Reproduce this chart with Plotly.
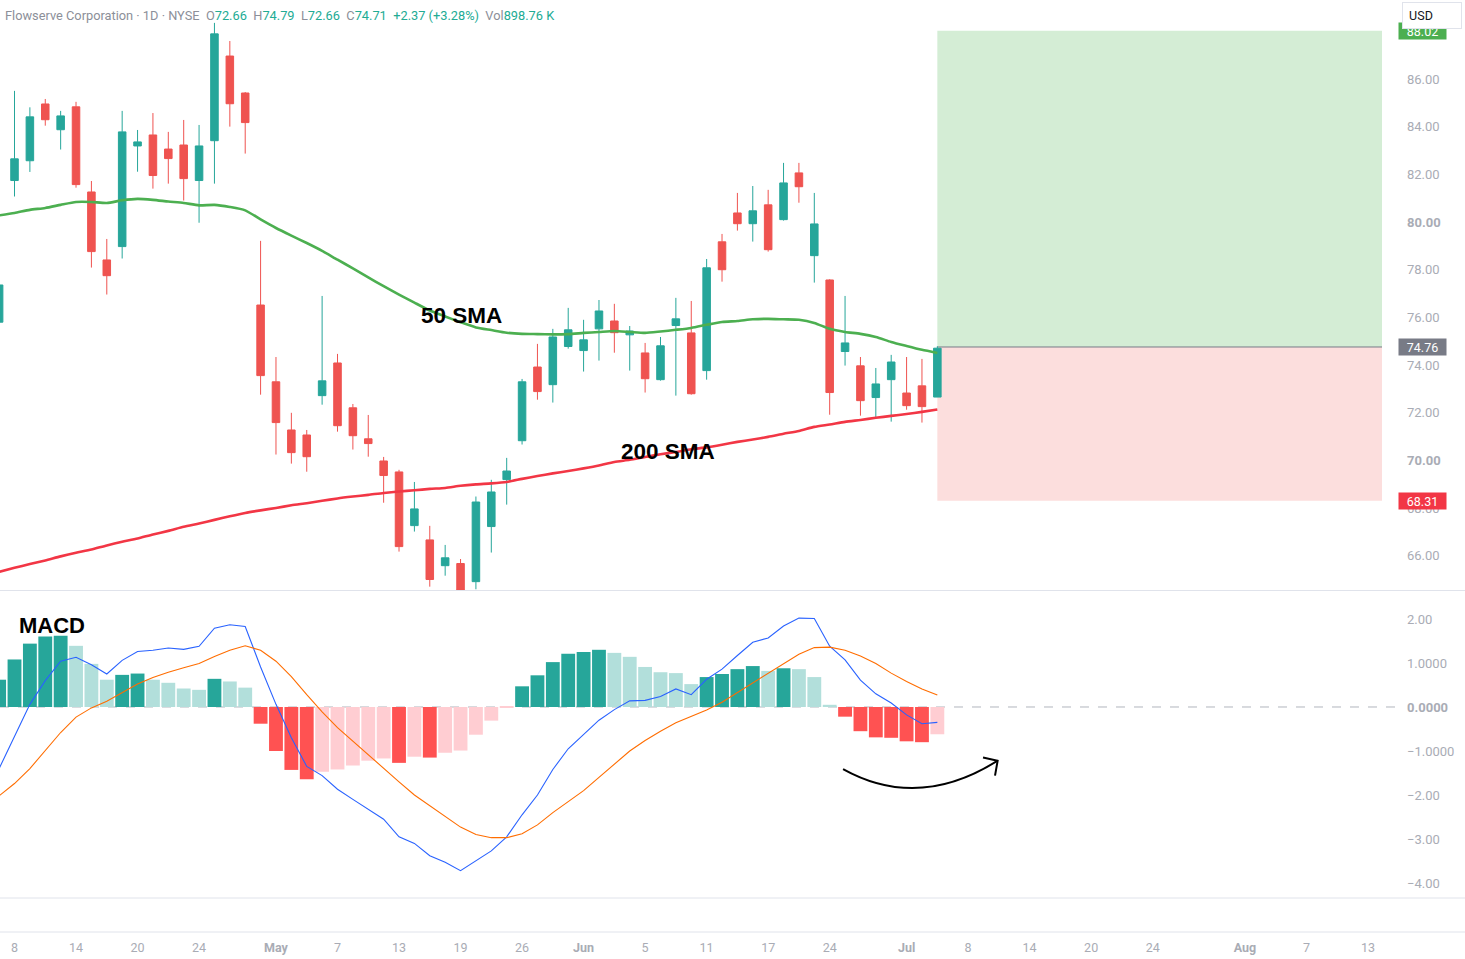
import plotly.graph_objects as go

# ---------------- data ----------------
bar_index = list(range(-1, 61))

opens = [75.80, 81.74, 82.57, 84.95, 83.87, 84.83, 81.26, 78.41, 78.97, 83.19,
         83.65, 83.06, 83.23, 81.74, 83.41, 86.96, 85.41, 76.52, 73.30, 71.28,
         71.07, 72.72, 74.09, 72.21, 70.91, 69.98, 69.52, 67.27, 66.67, 65.59,
         65.68, 64.92, 67.23, 69.20, 70.83, 73.92, 73.18, 74.78, 74.61, 75.52,
         75.85, 75.27, 74.51, 73.39, 75.66, 75.35, 73.77, 79.17, 80.38, 79.93,
         80.72, 80.10, 82.06, 78.59, 77.57, 74.57, 73.97, 72.64, 73.39, 72.83,
         73.13, 72.66]
highs = [77.50, 85.50, 84.81, 85.16, 84.66, 85.04, 81.72, 79.29, 84.66, 83.86,
         84.57, 83.78, 84.28, 84.07, 88.35, 87.59, 85.45, 79.21, 74.34, 72.00,
         71.28, 76.90, 74.47, 72.37, 71.91, 70.15, 69.61, 69.10, 67.26, 66.46,
         65.87, 68.49, 69.19, 70.11, 73.42, 74.89, 75.52, 76.40, 75.90, 76.73,
         76.57, 75.64, 74.93, 75.18, 76.82, 76.69, 78.45, 79.50, 81.22, 81.51,
         81.35, 82.48, 82.48, 81.22, 77.60, 76.90, 74.34, 73.88, 74.43, 74.34,
         74.26, 74.79]
lows = [75.60, 81.07, 82.10, 84.04, 83.04, 81.44, 78.09, 76.96, 78.47, 82.11,
        81.40, 81.61, 80.90, 79.97, 81.61, 84.00, 82.87, 72.76, 70.25, 69.87,
        69.53, 72.34, 71.21, 70.46, 70.16, 68.23, 66.18, 67.02, 64.71, 65.17,
        64.45, 64.60, 66.14, 68.15, 70.67, 72.55, 72.43, 74.69, 73.73, 74.19,
        74.52, 73.77, 72.85, 73.35, 72.72, 72.76, 73.39, 77.50, 79.64, 79.18,
        78.76, 80.06, 80.81, 77.46, 71.92, 73.98, 71.88, 71.80, 71.63, 72.13,
        71.59, 72.66]
closes = [77.36, 82.65, 84.41, 84.29, 84.45, 81.57, 78.76, 77.75, 83.78, 83.36,
          81.95, 82.66, 81.82, 83.19, 87.89, 84.96, 84.17, 73.56, 71.59, 70.33,
          70.16, 73.34, 71.46, 71.04, 70.71, 69.37, 66.39, 67.97, 65.01, 65.92,
          64.55, 68.26, 68.68, 69.56, 73.30, 72.89, 75.18, 75.48, 75.06, 76.27,
          75.36, 75.43, 73.43, 74.81, 75.94, 72.80, 78.08, 78.00, 79.93, 80.47,
          78.84, 81.64, 81.48, 79.92, 72.85, 74.93, 72.51, 73.21, 74.13, 72.30,
          72.26, 74.71]

sma50 = [80.28, 80.38, 80.51, 80.59, 80.72, 80.84, 80.84, 80.80, 80.91, 80.97,
         80.93, 80.86, 80.80, 80.70, 80.72, 80.63, 80.49, 80.11, 79.75, 79.43,
         79.12, 78.79, 78.42, 78.06, 77.68, 77.31, 76.96, 76.62, 76.29, 76.04,
         75.80, 75.58, 75.47, 75.36, 75.31, 75.30, 75.29, 75.30, 75.35, 75.39,
         75.43, 75.39, 75.35, 75.41, 75.48, 75.56, 75.69, 75.81, 75.85, 75.92,
         75.94, 75.92, 75.90, 75.77, 75.52, 75.39, 75.31, 75.18, 74.97, 74.80,
         74.64, 74.51]
sma200 = [65.33, 65.50, 65.66, 65.81, 65.98, 66.13, 66.27, 66.44, 66.59, 66.73,
          66.90, 67.05, 67.22, 67.36, 67.51, 67.66, 67.80, 67.91, 68.01, 68.12,
          68.21, 68.31, 68.41, 68.49, 68.56, 68.64, 68.70, 68.75, 68.81, 68.85,
          68.94, 69.00, 69.04, 69.10, 69.23, 69.35, 69.46, 69.56, 69.67, 69.79,
          69.94, 70.03, 70.15, 70.26, 70.36, 70.47, 70.55, 70.66, 70.78, 70.88,
          70.99, 71.12, 71.24, 71.41, 71.51, 71.62, 71.70, 71.79, 71.87, 71.95,
          72.04, 72.14]

macd_hist = [0.62, 1.08, 1.44, 1.60, 1.62, 1.39, 0.98, 0.62, 0.73, 0.76,
             0.62, 0.55, 0.42, 0.39, 0.64, 0.58, 0.44, -0.38, -1.00, -1.43,
             -1.64, -1.47, -1.42, -1.33, -1.22, -1.17, -1.27, -1.13, -1.15, -1.04,
             -0.99, -0.63, -0.31, -0.02, 0.47, 0.72, 1.02, 1.21, 1.25, 1.30,
             1.23, 1.14, 0.91, 0.79, 0.77, 0.52, 0.68, 0.75, 0.86, 0.93,
             0.82, 0.88, 0.86, 0.68, 0.05, -0.22, -0.55, -0.69, -0.70, -0.78,
             -0.80, -0.62]
macd_line = [-1.40, -0.66, 0.06, 0.60, 1.04, 1.13, 0.96, 0.75, 1.06, 1.26,
             1.29, 1.34, 1.31, 1.38, 1.79, 1.87, 1.83, 0.91, 0.06, -0.70,
             -1.35, -1.56, -1.87, -2.10, -2.32, -2.55, -2.95, -3.10, -3.38, -3.53,
             -3.72, -3.50, -3.27, -2.95, -2.45, -2.00, -1.42, -0.95, -0.63, -0.30,
             -0.06, 0.14, 0.15, 0.24, 0.41, 0.28, 0.63, 0.86, 1.17, 1.47,
             1.57, 1.84, 2.02, 2.01, 1.38, 1.07, 0.61, 0.30, 0.09, -0.18,
             -0.38, -0.35]
signal_line = [-2.02, -1.74, -1.40, -1.00, -0.58, -0.23, -0.02, 0.13, 0.33, 0.52,
               0.67, 0.79, 0.89, 0.99, 1.15, 1.29, 1.39, 1.29, 1.04, 0.69,
               0.28, -0.11, -0.47, -0.78, -1.10, -1.40, -1.70, -2.00, -2.25, -2.50,
               -2.73, -2.90, -2.97, -2.97, -2.88, -2.68, -2.40, -2.15, -1.90, -1.60,
               -1.30, -1.00, -0.76, -0.55, -0.36, -0.22, -0.07, 0.11, 0.33, 0.56,
               0.77, 0.98, 1.20, 1.35, 1.36, 1.29, 1.16, 0.99, 0.77, 0.58,
               0.41, 0.27]

tick_pos = [0, 4, 8, 12, 17, 21, 25, 29, 33, 37, 41, 45, 49, 53, 58, 62, 66, 70, 74, 80, 84, 88]
tick_labels = ["8", "14", "20", "24", "<b>May</b>", "7", "13", "19", "26", "<b>Jun</b>", "5", "11",
               "17", "24", "<b>Jul</b>", "8", "14", "20", "24", "<b>Aug</b>", "7", "13"]

price_ticks = [66, 68, 70, 72, 74, 76, 78, 80, 82, 84, 86]
price_tick_text = ["66.00", "68.00", "<b>70.00</b>", "72.00", "74.00", "76.00", "78.00",
                   "<b>80.00</b>", "82.00", "84.00", "86.00"]
macd_ticks = [2, 1, 0, -1, -2, -3, -4]
macd_tick_text = ["2.00", "1.0000", "<b>0.0000</b>", "\u22121.0000", "\u22122.00", "\u22123.00", "\u22124.00"]

entry_price = 74.76
target_price = 88.02
stop_price = 68.31
entry_bar = 60

# ---------------- styling ----------------
UP = "#26A69A"
DOWN = "#EF5350"
AXIS_TXT = "#A9ACB5"
SEP = "#E0E3EB"
FONT = "Roboto"

X_RANGE = [-0.943, 88.91]
PLOT_H = 932.0


def py(p):
    return (PLOT_H - p) / PLOT_H


hist_colors = []
for i, h in enumerate(macd_hist):
    prev = macd_hist[i - 1] if i > 0 else None
    if h >= 0:
        hist_colors.append(UP if (prev is None or h > prev) else "#B2DFDB")
    else:
        hist_colors.append("#FFCDD2" if (prev is not None and h > prev) else "#FF5252")

fig = go.Figure()

fig.add_trace(go.Candlestick(
    x=bar_index, open=opens, high=highs, low=lows, close=closes,
    increasing=dict(line=dict(color=UP, width=1), fillcolor=UP),
    decreasing=dict(line=dict(color=DOWN, width=1), fillcolor=DOWN),
    whiskerwidth=0, showlegend=False, xaxis="x", yaxis="y"))

fig.add_trace(go.Scatter(x=bar_index, y=sma50, mode="lines",
                         line=dict(color="#4CAF50", width=2.6, shape="spline", smoothing=0.6),
                         showlegend=False, xaxis="x", yaxis="y"))
fig.add_trace(go.Scatter(x=bar_index, y=sma200, mode="lines",
                         line=dict(color="#F23645", width=2.6, shape="spline", smoothing=0.6),
                         showlegend=False, xaxis="x", yaxis="y"))

fig.add_trace(go.Bar(x=bar_index, y=macd_hist, marker=dict(color=hist_colors, line=dict(width=0)),
                     width=0.9, showlegend=False, xaxis="x", yaxis="y2"))
fig.add_trace(go.Scatter(x=bar_index, y=macd_line, mode="lines",
                         line=dict(color="#2962FF", width=1.1),
                         showlegend=False, xaxis="x", yaxis="y2"))
fig.add_trace(go.Scatter(x=bar_index, y=signal_line, mode="lines",
                         line=dict(color="#FF6D00", width=1.1),
                         showlegend=False, xaxis="x", yaxis="y2"))

shapes = [
    # position tool
    dict(type="rect", xref="x", yref="y", x0=entry_bar, x1=X_RANGE[1], y0=entry_price, y1=target_price,
         fillcolor="rgb(212,237,213)", line=dict(width=0), layer="below"),
    dict(type="rect", xref="x", yref="y", x0=entry_bar, x1=X_RANGE[1], y0=stop_price, y1=entry_price,
         fillcolor="rgb(252,222,221)", line=dict(width=0), layer="below"),
    dict(type="line", xref="x", yref="y", x0=entry_bar, x1=X_RANGE[1], y0=entry_price, y1=entry_price,
         line=dict(color="#787B86", width=1), layer="below"),
    # macd zero line
    dict(type="line", xref="paper", yref="y2", x0=0, x1=1400 / 1382, y0=0, y1=0,
         line=dict(color="#B2B5BE", width=1, dash="dash"), layer="below"),
    # pane separators
    dict(type="line", xref="paper", yref="paper", x0=0, x1=1465 / 1382, y0=py(590.5), y1=py(590.5),
         line=dict(color=SEP, width=1)),
    dict(type="line", xref="paper", yref="paper", x0=0, x1=1465 / 1382, y0=py(898), y1=py(898),
         line=dict(color=SEP, width=1)),
    dict(type="line", xref="paper", yref="paper", x0=0, x1=1465 / 1382, y0=py(932), y1=py(932),
         line=dict(color=SEP, width=1)),
    # hand-drawn arrow in MACD pane
    dict(type="path", xref="x", yref="y2", path="M 53.87,-1.41 Q 58.76,-2.36 63.92,-1.22",
         line=dict(color="black", width=2)),
    dict(type="path", xref="x", yref="y2", path="M 62.97,-1.15 L 63.92,-1.22 L 63.75,-1.56",
         line=dict(color="black", width=2)),
]

teal_txt = "#22AB94"
grey_txt = "#8C8F99"


def v(s):
    return f'<span style="color:{teal_txt}">{s}</span>'


nb = "\u00a0"
header = (f'<span style="color:{grey_txt}">Flowserve Corporation · 1D · NYSE</span>{nb}{nb}'
          f'<span style="color:{grey_txt}">O</span>{v("72.66")}{nb}{nb}'
          f'<span style="color:{grey_txt}">H</span>{v("74.79")}{nb}{nb}'
          f'<span style="color:{grey_txt}">L</span>{v("72.66")}{nb}{nb}'
          f'<span style="color:{grey_txt}">C</span>{v("74.71")}{nb}{nb}'
          f'{v("+2.37 (+3.28%)")}{nb}{nb}'
          f'<span style="color:{grey_txt}">Vol</span>{v("898.76" + nb + "K")}')

annotations = [
    dict(text=header, xref="paper", yref="paper", x=3 / 1382, y=py(15), xanchor="left", yanchor="middle",
         showarrow=False, font=dict(family=FONT, size=12.8, color=grey_txt)),
    dict(text="<b>50 SMA</b>", xref="x", yref="y", x=29.03, y=76.10, showarrow=False,
         font=dict(family="Liberation Sans", size=22.5, color="black")),
    dict(text="<b>200 SMA</b>", xref="x", yref="y", x=42.49, y=70.36, showarrow=False,
         font=dict(family="Liberation Sans", size=22.5, color="black")),
    dict(text="<b>MACD</b>", xref="x", yref="y2", x=2.41, y=1.86, showarrow=False,
         font=dict(family="Liberation Sans", size=22, color="black")),
    # price tags
    dict(text=f"{target_price:.2f}", xref="paper", yref="y", x=1398 / 1382, y=target_price, xanchor="left",
         yanchor="middle", showarrow=False, bgcolor="#4CAF50", width=44, height=13, borderpad=1.5,
         font=dict(family=FONT, size=12.5, color="white")),
    dict(text=f"{entry_price:.2f}", xref="paper", yref="y", x=1398 / 1382, y=entry_price, xanchor="left",
         yanchor="middle", showarrow=False, bgcolor="#787B86", width=44, height=13, borderpad=1.5,
         font=dict(family=FONT, size=12.5, color="white")),
    dict(text=f"{stop_price:.2f}", xref="paper", yref="y", x=1398 / 1382, y=stop_price, xanchor="left",
         yanchor="middle", showarrow=False, bgcolor="#F23645", width=44, height=13, borderpad=1.5,
         font=dict(family=FONT, size=12.5, color="white")),
    # currency button (drawn last, covers the top of the target tag like the reference)
    dict(text=nb + "USD", xref="paper", yref="paper", x=1402 / 1382, y=py(2.5), xanchor="left",
         yanchor="top", showarrow=False, bgcolor="white", bordercolor=SEP, borderwidth=1, borderpad=3,
         width=52, height=19, align="left", font=dict(family=FONT, size=12.5, color="#131722")),
]

fig.update_layout(
    width=1465, height=959,
    margin=dict(l=0, r=83, t=0, b=27),
    paper_bgcolor="white", plot_bgcolor="white",
    showlegend=False, bargap=0.1,
    font=dict(family=FONT, size=12.5, color=AXIS_TXT),
    xaxis=dict(range=X_RANGE, anchor="free", position=0, showgrid=False, zeroline=False,
               showline=False, ticks="", tickmode="array", tickvals=tick_pos, ticktext=tick_labels,
               tickfont=dict(family=FONT, size=12.5, color=AXIS_TXT), ticklabelstandoff=6,
               rangeslider=dict(visible=False), fixedrange=True),
    yaxis=dict(domain=[py(590), 1], side="right", anchor="x", range=[64.57, 89.31],
               showgrid=False, zeroline=False, showline=False, ticks="",
               tickmode="array", tickvals=price_ticks, ticktext=price_tick_text,
               tickfont=dict(family=FONT, size=13, color=AXIS_TXT), ticklabelstandoff=24),
    yaxis2=dict(domain=[py(898), py(591)], side="right", anchor="x", range=[-4.341, 2.636],
                showgrid=False, zeroline=False, showline=False, ticks="",
                tickmode="array", tickvals=macd_ticks, ticktext=macd_tick_text,
                tickfont=dict(family=FONT, size=13, color=AXIS_TXT), ticklabelstandoff=24),
    shapes=shapes,
    annotations=annotations,
)

fig.write_html("out.html")
